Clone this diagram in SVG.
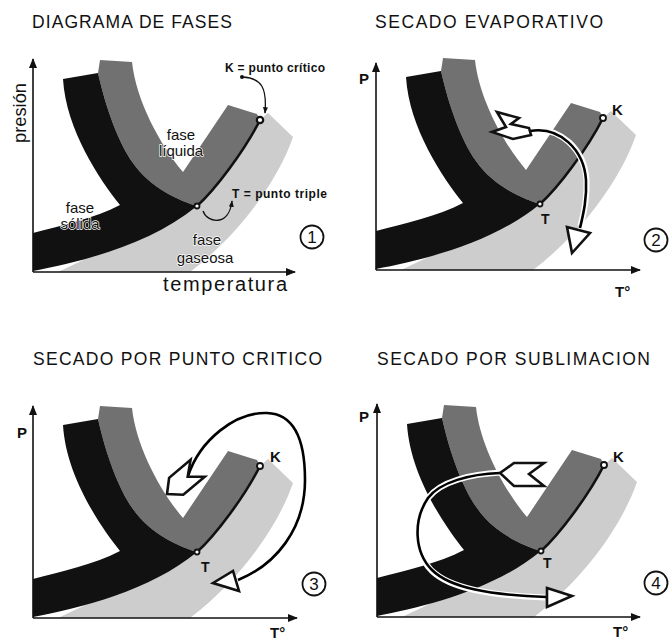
<svg xmlns="http://www.w3.org/2000/svg" width="671" height="640" viewBox="0 0 671 640">
<style>
 text{font-family:"Liberation Sans",Arial,sans-serif;fill:#111}
 .title{font-size:17.5px}
 .ax{stroke:#111;stroke-width:1.6;fill:none}
 .lbl{font-weight:bold;font-size:15px}
 .sm{font-weight:bold;font-size:12px}
 .ph{font-size:15px;paint-order:stroke;stroke:#fff;stroke-width:1.3}
 .solid{fill:#111}
 .liq{fill:#717171}
 .gas{fill:#cdcdcd}
 .vap{fill:none;stroke:#111;stroke-width:2.6}
 .hollow{fill:#fff;stroke:#111;stroke-width:2.6;stroke-linejoin:miter}
 .pt{fill:#fff;stroke:#111;stroke-width:1.8}
 .lead{fill:none;stroke:#111;stroke-width:1.3}
 .num{font-size:17px;text-anchor:middle}
 .ring{fill:none;stroke:#111;stroke-width:1.8}
 .halo{fill:none;stroke:#fff;stroke-width:6}
 .crv{fill:none;stroke:#000;stroke-width:2.6}
</style>
<defs>
 <marker id="axh" viewBox="0 0 10 8" refX="9" refY="4" markerWidth="10" markerHeight="8" markerUnits="userSpaceOnUse" orient="auto"><path d="M0,0 L10,4 L0,8 Z" fill="#111"/></marker>
 <marker id="ldh" viewBox="0 0 8 6" refX="7" refY="3" markerWidth="7" markerHeight="5" markerUnits="userSpaceOnUse" orient="auto"><path d="M0,0 L8,3 L0,6 Z" fill="#111"/></marker>
 <g id="phases">
  <path class="gas" d="M260,120 L268,113 L293,137 C280,175 245,230 190,272 L58,272 L197,206 C215,190 245,150 260,120 Z"/>
  <path class="liq" d="M100,60 L132,62 C136,100 160,145 183,172 L228,105 L257,114 L260,120 C245,150 215,190 197,206 C180,201 150,188 133,163 C118,142 106,108 98,73 Z"/>
  <path class="solid" d="M63,79 L98,73 C106,108 118,142 133,163 C150,188 180,201 197,206 C150,245 80,262 33,271 L33,233 C60,226 95,218 120,205 C100,180 66,130 63,79 Z"/>
  <path class="vap" d="M197,206 C215,190 245,150 260,120"/>
 </g>
</defs>

<g id="panel1">
 <text class="title" x="32" y="28" textLength="200" lengthAdjust="spacing">DIAGRAMA DE FASES</text>
 <use href="#phases"/>
 <path class="ax" d="M33,272 L33,59" marker-end="url(#axh)"/>
 <path class="ax" d="M33,272 L295,272" marker-end="url(#axh)"/>
 <text transform="translate(26,143) rotate(-90)" style="font-size:19px" textLength="60" lengthAdjust="spacingAndGlyphs">presión</text>
 <text x="163" y="291" style="font-size:20px" textLength="124" lengthAdjust="spacing">temperatura</text>
 <text class="ph" x="181" y="140" text-anchor="middle">fase</text>
 <text class="ph" x="181" y="156" text-anchor="middle">líquida</text>
 <text class="ph" x="80" y="213" text-anchor="middle">fase</text>
 <text class="ph" x="80" y="229" text-anchor="middle">sólida</text>
 <text class="ph" x="207" y="245" text-anchor="middle">fase</text>
 <text class="ph" x="205" y="263" text-anchor="middle">gaseosa</text>
 <text class="sm" x="225" y="72" textLength="100" lengthAdjust="spacing">K = punto crítico</text>
 <text class="sm" x="232" y="198" textLength="95" lengthAdjust="spacing">T = punto triple</text>
 <circle cx="242" cy="77" r="2" fill="#111"/>
 <circle class="pt" cx="197" cy="206" r="2.5"/>
 <circle class="pt" cx="260" cy="120" r="3.2" style="stroke-width:2.2"/>
 <circle class="ring" cx="312" cy="237" r="11.5"/>
 <text class="num" x="312" y="243">1</text>
</g>

<g id="panel2">
 <text class="title" x="375" y="28" textLength="228" lengthAdjust="spacing">SECADO EVAPORATIVO</text>
 <use href="#phases" transform="translate(343,-2)"/>
 <path class="ax" d="M376,270 L376,63" marker-end="url(#axh)"/>
 <path class="ax" d="M376,270 L640,270" marker-end="url(#axh)"/>
 <text class="lbl" x="359" y="84">P</text>
 <text class="lbl" x="612" y="115">K</text>
 <text class="lbl" x="541" y="224" style="font-size:14px">T</text>
 <text class="lbl" x="615" y="297">T°</text>
 <circle class="ring" cx="656" cy="240" r="11.5"/>
 <text class="num" x="656" y="246">2</text>
</g>

<g id="panel3">
 <text class="title" x="33" y="365" textLength="289" lengthAdjust="spacing">SECADO POR PUNTO CRITICO</text>
 <use href="#phases" transform="translate(0,346)"/>
 <path class="ax" d="M33,618 L33,406" marker-end="url(#axh)"/>
 <path class="ax" d="M33,618 L297,618" marker-end="url(#axh)"/>
 <text class="lbl" x="17" y="438">P</text>
 <text class="lbl" x="270" y="462">K</text>
 <text class="lbl" x="201" y="572" style="font-size:14px">T</text>
 <text class="lbl" x="270" y="638">T°</text>
 <circle class="ring" cx="314" cy="584" r="11.5"/>
 <text class="num" x="314" y="590">3</text>
</g>

<g id="panel4">
 <text class="title" x="377" y="365" textLength="273" lengthAdjust="spacing">SECADO POR SUBLIMACION</text>
 <use href="#phases" transform="translate(344,345)"/>
 <path class="ax" d="M377,617 L377,404" marker-end="url(#axh)"/>
 <path class="ax" d="M377,617 L640,617" marker-end="url(#axh)"/>
 <text class="lbl" x="359" y="422">P</text>
 <text class="lbl" x="613" y="462">K</text>
 <text class="lbl" x="543" y="568" style="font-size:14px">T</text>
 <text class="lbl" x="613" y="637">T°</text>
 <circle class="ring" cx="656" cy="583" r="11.5"/>
 <text class="num" x="656" y="589">4</text>
</g>

<g id="connectors">
 <path class="lead" d="M242,77 C262,78 267,88 265,113" marker-end="url(#ldh)"/>
 <path class="lead" d="M203,211 C207,223 229,227 232,201" marker-end="url(#ldh)"/>

 <path class="halo" d="M531,130.5 C560.5,126 584.5,150 586.5,180 C587.5,200 583.5,215 580.5,226"/>
 <path class="halo" d="M501,472.5 C470.5,474 440.5,481.5 428.5,497.5 C413.5,519.5 413.5,552 431.5,570.5 C450,588.5 490,595.5 545,597.5"/>

 <path class="crv" d="M530,131 C560,126 584,150 586,180 C587,200 583,215 580,228"/>
 <polygon class="hollow" points="497,112 519,118 511,124 529,128 531,135 513,139 492,132 506,127"/>
 <polygon class="hollow" points="567,227 590,233 572,253"/>

 <path class="crv" d="M188,476 C200,440 235,412 267,413 C295,414 305,440 305,480 C305,530 275,565 238,580"/>
 <polygon class="hollow" transform="translate(167,494) rotate(-40)" points="0,0 12,-11 40,-11 27,0 40,11 12,11"/>
 <polygon class="hollow" points="213,583 233,571 239,591"/>

 <path class="crv" d="M500,473 C470,474 440,482 428,498 C413,520 414,552 432,570 C450,588 490,595 547,597"/>
 <polygon class="hollow" points="500,473 514,463 544,463 529,474 544,486 514,486"/>
 <polygon class="hollow" points="547,588 572,596 547,607"/>
</g>

<g id="points">
 <circle class="pt" cx="540" cy="204" r="2.5"/>
 <circle class="pt" cx="603" cy="118" r="3"/>
 <circle class="pt" cx="197" cy="552" r="2.5"/>
 <circle class="pt" cx="260" cy="466" r="3"/>
 <circle class="pt" cx="541" cy="551" r="2.5"/>
 <circle class="pt" cx="604" cy="465" r="3"/>
</g>
</svg>
